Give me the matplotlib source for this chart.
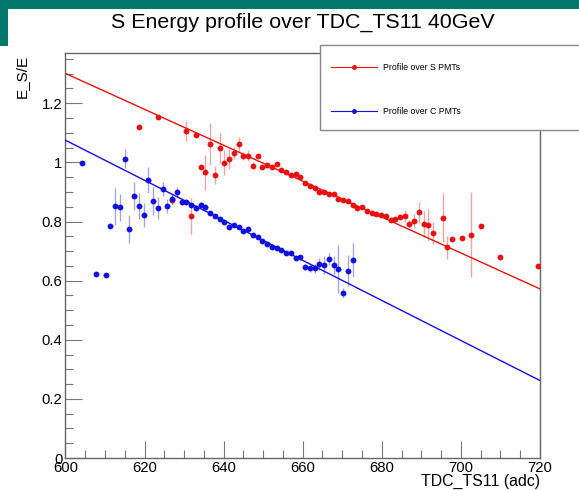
import matplotlib.pyplot as plt
from matplotlib.patches import Rectangle
from matplotlib.lines import Line2D
from matplotlib.ticker import MultipleLocator, FormatStrFormatter

plt.rcParams['font.family'] = ['Liberation Sans', 'DejaVu Sans']

# profile over S PMTs (bin centre, mean, error)
s_x = [618.6, 623.4, 627.0, 630.6, 631.8, 633.0, 634.2, 635.4, 636.6, 637.8,
       639.0, 640.2, 641.4, 642.6, 643.8, 645.0, 646.2, 647.4, 648.6, 649.8,
       651.0, 652.2, 653.4, 654.6, 655.8, 657.0, 658.2, 659.4, 660.6, 661.8,
       663.0, 664.2, 665.4, 666.6, 667.8, 669.0, 670.2, 671.4, 672.6, 673.8,
       675.0, 676.2, 677.4, 678.6, 679.8, 681.0, 682.2, 683.4, 684.6, 685.8,
       687.0, 688.2, 689.4, 690.6, 691.8, 693.0, 695.4, 696.6, 697.8, 700.2,
       702.6, 705.0, 709.8, 719.4]
s_y = [1.121, 1.155, 0.873, 1.107, 0.819, 1.093, 0.986, 0.967, 1.063, 0.957,
       1.048, 0.999, 1.012, 1.033, 1.062, 1.022, 1.023, 0.988, 1.020, 0.986,
       0.990, 0.984, 0.996, 0.975, 0.967, 0.958, 0.962, 0.949, 0.930, 0.920,
       0.914, 0.901, 0.899, 0.892, 0.892, 0.876, 0.874, 0.871, 0.856, 0.847,
       0.849, 0.834, 0.828, 0.826, 0.823, 0.818, 0.805, 0.809, 0.815, 0.819,
       0.792, 0.803, 0.831, 0.791, 0.788, 0.761, 0.813, 0.713, 0.740, 0.745,
       0.756, 0.786, 0.680, 0.649]
s_err = [0.0, 0.0, 0.015, 0.034, 0.062, 0.005, 0.005, 0.059, 0.071, 0.030,
         0.050, 0.042, 0.034, 0.020, 0.025, 0.014, 0.020, 0.012, 0.010, 0.005,
         0.005, 0.005, 0.006, 0.005, 0.005, 0.005, 0.005, 0.005, 0.005, 0.005,
         0.005, 0.005, 0.005, 0.005, 0.005, 0.005, 0.005, 0.005, 0.005, 0.005,
         0.005, 0.005, 0.005, 0.005, 0.005, 0.005, 0.005, 0.005, 0.010, 0.020,
         0.012, 0.024, 0.036, 0.045, 0.054, 0.036, 0.083, 0.039, 0.0, 0.0,
         0.143, 0.0, 0.0, 0.0]

# profile over C PMTs
c_x = [604.2, 607.8, 610.2, 611.4, 612.6, 613.8, 615.0, 616.2, 617.4, 618.6,
       619.8, 621.0, 622.2, 623.4, 624.6, 625.8, 627.0, 628.2, 629.4, 630.6,
       631.8, 633.0, 634.2, 635.4, 636.6, 637.8, 639.0, 640.2, 641.4, 642.6,
       643.8, 645.0, 646.2, 647.4, 648.6, 649.8, 651.0, 652.2, 653.4, 654.6,
       655.8, 657.0, 658.2, 659.4, 660.6, 661.8, 663.0, 664.2, 665.4, 666.6,
       667.8, 669.0, 670.2, 671.4, 672.6]
c_y = [0.997, 0.622, 0.619, 0.786, 0.851, 0.848, 1.012, 0.774, 0.887, 0.854,
       0.823, 0.940, 0.869, 0.845, 0.909, 0.852, 0.876, 0.900, 0.865, 0.865,
       0.855, 0.845, 0.857, 0.848, 0.830, 0.817, 0.810, 0.799, 0.783, 0.788,
       0.782, 0.769, 0.773, 0.755, 0.749, 0.734, 0.723, 0.715, 0.711, 0.702,
       0.693, 0.693, 0.677, 0.679, 0.647, 0.642, 0.642, 0.657, 0.652, 0.673,
       0.652, 0.639, 0.559, 0.634, 0.670]
c_err = [0.0, 0.0, 0.0, 0.008, 0.062, 0.045, 0.032, 0.048, 0.048, 0.044,
         0.040, 0.045, 0.047, 0.038, 0.023, 0.024, 0.017, 0.018, 0.010, 0.010,
         0.006, 0.005, 0.008, 0.008, 0.005, 0.005, 0.005, 0.005, 0.005, 0.005,
         0.005, 0.005, 0.005, 0.005, 0.005, 0.005, 0.005, 0.005, 0.005, 0.005,
         0.005, 0.005, 0.005, 0.005, 0.010, 0.012, 0.015, 0.020, 0.030, 0.020,
         0.030, 0.080, 0.017, 0.053, 0.057]

# linear fits, evaluated at the axis ends
fit_x = [600, 720]
s_fit = [1.301, 0.572]
c_fit = [1.075, 0.262]

bin_half = 0.6
red = '#e81010'
blue = '#1010e0'

fig = plt.figure(figsize=(5.79, 4.90), dpi=100)

# teal slide decoration
fig.add_artist(Rectangle((0, 1 - 9 / 490), 1, 9 / 490, transform=fig.transFigure,
                         fc='#00786a', ec='none', zorder=0))
fig.add_artist(Rectangle((0, 1 - 46 / 490), 8 / 579, 46 / 490, transform=fig.transFigure,
                         fc='#00786a', ec='none', zorder=0))

ax = fig.add_axes([65.4 / 579, 32 / 490, 474.6 / 579, 405 / 490])

ax.plot(fit_x, s_fit, color=red, lw=1, zorder=2)
ax.errorbar(s_x, s_y, yerr=s_err, xerr=bin_half, fmt='o', color=red, ms=4.2,
            mew=0, ecolor=(0.9, 0.1, 0.1, 0.4), elinewidth=1, capsize=0, zorder=3)
ax.errorbar(c_x, c_y, yerr=c_err, xerr=bin_half, fmt='o', color=blue, ms=4.2,
            mew=0, ecolor=(0.1, 0.1, 0.8, 0.4), elinewidth=1, capsize=0, zorder=3)
ax.plot(fit_x, c_fit, color=blue, lw=1, zorder=4)

ax.set_xlim(600, 720)
ax.set_ylim(0, 1.37)
ax.xaxis.set_major_locator(MultipleLocator(20))
ax.xaxis.set_minor_locator(MultipleLocator(5))
ax.yaxis.set_major_locator(MultipleLocator(0.2))
ax.yaxis.set_minor_locator(MultipleLocator(0.05))
ax.yaxis.set_major_formatter(FormatStrFormatter('%g'))

ax.tick_params(which='both', direction='in', top=False, right=False,
               color='#777777', width=0.8, labelsize=10.7, pad=2)
ax.tick_params(which='major', length=12)
ax.tick_params(which='minor', length=6)
for sp in ax.spines.values():
    sp.set_color('#666666')
    sp.set_linewidth(1)

fig.text(303 / 579, 1 - 22 / 490, 'S Energy profile over TDC_TS11 40GeV',
         ha='center', va='center', fontsize=15.4)
fig.text(540 / 579, 1 - 481 / 490, 'TDC_TS11 (adc)', ha='right', va='center',
         fontsize=11.4)
fig.text(22 / 579, 1 - 55 / 490, 'E_S/E', rotation=90, ha='center', va='top',
         fontsize=11)

# legend box, ROOT style
fig.add_artist(Rectangle((320 / 579, 1 - 130 / 490), 270 / 579, 85 / 490,
                         transform=fig.transFigure, fc='white', ec='#888888',
                         lw=1, zorder=5))
for label, col, ypix in [('Profile over S PMTs', red, 67),
                         ('Profile over C PMTs', blue, 111)]:
    yy = 1 - ypix / 490
    fig.add_artist(Line2D([331 / 579, 354 / 579, 377 / 579], [yy, yy, yy],
                          transform=fig.transFigure, color=col, lw=0.8,
                          marker='o', ms=2.5, markevery=[1], zorder=6))
    fig.text(383 / 579, yy, label, ha='left', va='center', fontsize=6.3,
             zorder=6)

fig.savefig('out.png', dpi=100)
